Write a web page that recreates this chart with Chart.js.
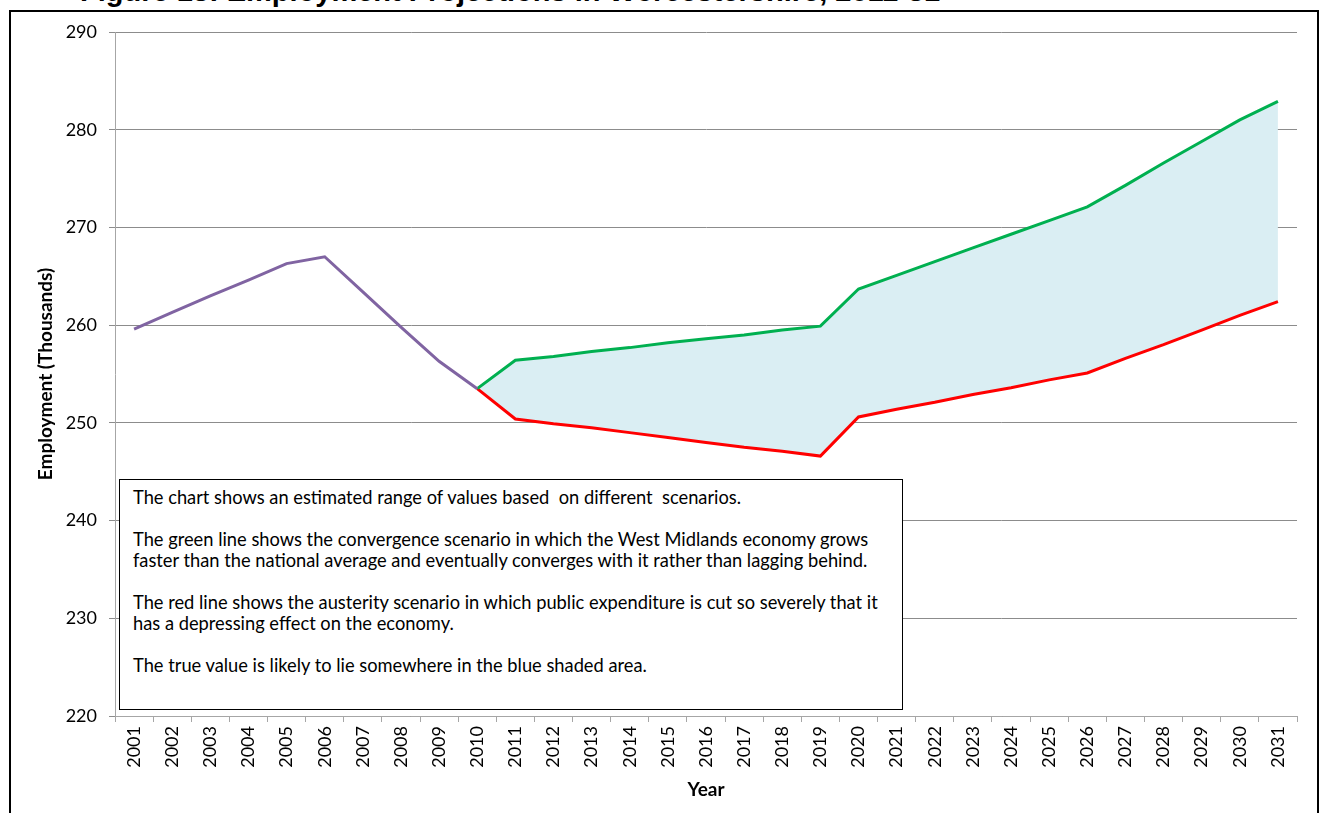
<!DOCTYPE html>
<html>
<head>
<meta charset="utf-8">
<script src="https://cdn.jsdelivr.net/npm/chart.js@4.4.1/dist/chart.umd.min.js"></script>
<style>
 body{margin:0;background:#fff;}
 #wrap{position:relative;width:1320px;height:813px;overflow:hidden;}
 #frame{position:absolute;left:9px;top:10px;width:1306px;height:900px;border:2px solid #000;}
 #title{position:absolute;left:80px;top:-25px;font:bold 29px "Liberation Sans",Arial,sans-serif;color:#000;white-space:nowrap;}
 #chart_paper{position:absolute;left:0;top:0;}
 #note{position:absolute;left:119px;top:479px;width:784px;height:231px;border:1.5px solid #000;background:#fff;
  box-sizing:border-box;padding:7px 13px;font:18.3px Lato,"Open Sans",sans-serif;line-height:21px;color:#000;}
 #note p{margin:0 0 21px 0;}
</style>
</head>
<body>
<div id="wrap">
 <div id="frame"></div>
 <div id="title">Figure 13: Employment Projections in Worcestershire, 2011-31</div>
 <canvas id="chart_paper" width="1320" height="813"></canvas>
 <div id="note">
  <p>The chart shows an estimated range of values based&nbsp; on different&nbsp; scenarios.</p>
  <p>The green line shows the convergence scenario in which the West Midlands economy grows<br>faster than the national average and eventually converges with it rather than lagging behind.</p>
  <p>The red line shows the austerity scenario in which public expenditure is cut so severely that it<br>has a depressing effect on the economy.</p>
  <p>The true value is likely to lie somewhere in the blue shaded area.</p>
 </div>
</div>
<script>
var years=["2001","2002","2003","2004","2005","2006","2007","2008","2009","2010",
 "2011","2012","2013","2014","2015","2016","2017","2018","2019","2020",
 "2021","2022","2023","2024","2025","2026","2027","2028","2029","2030","2031"];

// historic 2001-2010
var actual=[259.6,261.3,263.0,264.6,266.3,267.0,263.4,259.8,256.3,253.5,
 null,null,null,null,null,null,null,null,null,null,
 null,null,null,null,null,null,null,null,null,null,null];

// convergence scenario (green)
var convergence=[null,null,null,null,null,null,null,null,null,253.5,
 256.4,256.8,257.3,257.7,258.2,258.6,259.0,259.5,259.9,263.7,
 265.1,266.5,267.9,269.3,270.7,272.1,274.3,276.6,278.8,281.0,282.9];

// austerity scenario (red)
var austerity=[null,null,null,null,null,null,null,null,null,253.5,
 250.4,249.9,249.5,249.0,248.5,248.0,247.5,247.1,246.6,250.6,
 251.4,252.1,252.9,253.6,254.4,255.1,256.6,258.0,259.5,261.0,262.4];

var yMin=220, yMax=290, yStep=10;

function charts()
{
 var chartid=document.getElementById("chart_paper");
 var chart_obj=new Chart(chartid,{
   type:'line',
   data:
   {
    labels:years,
    datasets:[{
      label:"Actual",
      data:actual,
      borderColor:"#8064A2",
      borderWidth:3,
      pointRadius:0,
      fill:false
     },{
      label:"Convergence",
      data:convergence,
      borderColor:"#00B050",
      borderWidth:3,
      pointRadius:0,
      backgroundColor:"#DAEEF3",
      fill:'+1'
     },{
      label:"Austerity",
      data:austerity,
      borderColor:"#FF0000",
      borderWidth:3,
      pointRadius:0,
      fill:false
     }]
   },
   options:
   {
    responsive:false,
    animation:false,
    layout:{padding:{left:0,right:23,top:32,bottom:0}},
    plugins:{legend:{display:false},tooltip:{enabled:false},filler:{drawTime:'beforeDatasetsDraw'}},
    scales:
    {
      x:{
       offset:true,
       grid:{display:true,offset:true,drawOnChartArea:false,tickLength:6,color:"#A6A6A6"},
       border:{color:"#A6A6A6"},
       ticks:{minRotation:90,maxRotation:90,padding:4,color:"#000",font:{family:"Lato",size:18}},
       title:{display:true,text:"Year",color:"#000",font:{family:"Lato",size:19,weight:"bold"},padding:{top:0,bottom:12}},
       afterFit:function(s){s.height=97;}
      },
      y:{
       min:yMin,
       max:yMax,
       ticks:{stepSize:yStep,padding:12,color:"#000",font:{family:"Lato",size:18}},
       grid:{color:"#8C8C8C",tickLength:6},
       border:{color:"#A6A6A6"},
       title:{display:true,text:"Employment (Thousands)",color:"#000",font:{family:"Lato",size:19,weight:"bold"},padding:{top:34,bottom:0}},
       afterFit:function(s){s.width=115;}
      }
    }
   }
 });
}
charts();
</script>
</body>
</html>
